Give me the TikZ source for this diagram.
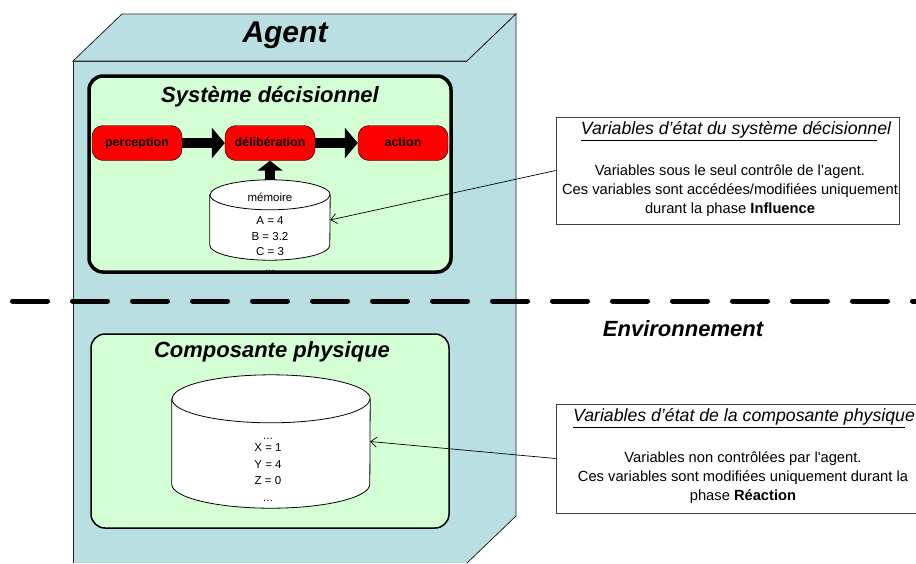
\documentclass[tikz,border=0pt]{standalone}
\usepackage{fontspec}
\newfontfamily\arial{Liberation Sans}[Ligatures=TeXOff]
\usetikzlibrary{positioning,arrows.meta,shapes.geometric}
\definecolor{agentblue}{RGB}{186,223,226}
\definecolor{sysgreen}{RGB}{212,255,212}
\tikzset{
  agentface/.style={fill=agentblue,draw=black!85,line width=.8pt},
  sysbox/.style={draw,fill=sysgreen,rounded corners=14pt},
  stepnode/.style={draw,fill=red,rounded corners=11pt,minimum width=90pt,minimum height=35pt,inner sep=0pt,
    text height=9pt,text depth=2pt,font=\arial\bfseries\fontsize{12.5}{14}\selectfont},
  bigarrow/.style={line width=10pt,-{Triangle[length=13pt,width=30pt]}},
  store/.style={inner sep=0pt},
  storeline/.style={draw,fill=white,line width=.8pt},
  storetext/.style={align=center,font=\arial\fontsize{11.5}{15.5}\selectfont},
  headtext/.style={font=\arial\bfseries\itshape\fontsize{22}{26}\selectfont},
  callout/.style={draw=black!75,fill=white,line width=.8pt},
  notetitle/.style={font=\arial\itshape\fontsize{17.7}{21}\selectfont},
  notebody/.style={align=center,font=\arial\fontsize{14.7}{19}\selectfont},
  callline/.style={line width=.7pt,-{Straight Barb[length=6pt,width=10pt]}},
  separator/.style={line width=5pt,dash pattern=on 35pt off 25pt,line cap=round}
}
% drum drawn on the box of node #1, x radius #2, y radius #3
\newcommand\drawstore[3]{%
  \path (#1.north west) ++(0pt,-#3pt) coordinate (#1-tl)
        (#1.north east) ++(0pt,-#3pt) coordinate (#1-tr)
        (#1.south west) ++(0pt,#3pt) coordinate (#1-bl);
  \path[storeline] (#1-tl)--(#1-bl) arc[start angle=180,end angle=360,x radius=#2pt,y radius=#3pt]
    --(#1-tr) arc[start angle=0,end angle=180,x radius=#2pt,y radius=#3pt]--cycle;
  \draw[line width=.8pt] (#1-tl) arc[start angle=180,end angle=360,x radius=#2pt,y radius=#3pt];
}
\begin{document}
\begin{tikzpicture}[x=1pt,y=-1pt,font=\arial]
  \useasboundingbox (0,0) rectangle (916,563);
  \draw[agentface] (73,563)--(73,61)--(467,61)--(467,563);
  \draw[agentface] (73,61)--(122,14)--(516,14)--(467,61)--cycle;
  \draw[agentface] (467,61)--(516,14)--(516,516)--(467,563);
  \node[headtext,font=\arial\bfseries\itshape\fontsize{30}{34}\selectfont] (agent) at (285,35) {Agent};

  \node[sysbox,line width=3.5pt,minimum width=362pt,minimum height=196pt] (decision) at (270,174) {};
  \node[headtext] (decisionTitle) at (270,97) {Système décisionnel};
  \node[stepnode] (perception) at (137,143) {perception};
  \node[stepnode] (deliberation) at (270,143) {délibération};
  \node[stepnode] (action) at (403,143) {action};
  \node[store,minimum width=120pt,minimum height=80pt] (memory) at (270,220) {};
  \drawstore{memory}{60}{15}
  \node[storetext] (memoryName) at (270,197) {mémoire};
  \node[storetext] (memoryValues) at (270,244) {A = 4\\B = 3.2\\C = 3\\...};
  \draw[bigarrow] (perception)--(deliberation);
  \draw[bigarrow] (deliberation)--(action);
  \draw[bigarrow,-{Triangle[length=10pt,width=25pt]}] (memory.north)--(deliberation);

  \draw[separator] (12.5,301)--(916,301);
  \node[headtext] (environment) at (683,329) {Environnement};

  \node[sysbox,line width=1.5pt,minimum width=358pt,minimum height=194pt] (physical) at (270,431) {};
  \node[headtext] (physicalTitle) at (272,352) {Composante physique};
  \node[store,minimum width=198pt,minimum height=133pt] (physicalStore) at (271,441.5) {};
  \drawstore{physicalStore}{99}{24}
  \node[storetext,font=\arial\fontsize{11.5}{16.5}\selectfont] (physicalValues) at (268,469.5) {...\\[-4pt]X = 1\\Y = 4\\Z = 0\\...};

  \node[callout,minimum width=343pt,minimum height=107pt] (noteDecision) at (727.5,170.5) {};
  \node[notetitle] (noteDecisionTitle) at (736,131) {\underline{Variables d’état du système décisionn}el};
  \node[notebody] (noteDecisionBody) at (730,191) {Variables sous le seul contrôle de l’agent.\\
    Ces variables sont accédées/modifiées uniquement\\durant la phase \textbf{Influence}};
  \node[callout,minimum width=374pt,minimum height=109pt] (notePhysical) at (743,458.5) {};
  \node[notetitle] (notePhysicalTitle) at (744,418) {\underline{Variables d’état de la composante physiqu}e};
  \node[notebody] (notePhysicalBody) at (743,478) {Variables non contrôlées par l'agent.\\
    Ces variables sont modifiées uniquement durant la\\phase \textbf{Réaction}};
  \draw[callline] (noteDecision.west)--(memory.east);
  \draw[callline] (notePhysical.west)--(physicalStore.east);
\end{tikzpicture}
\end{document}
